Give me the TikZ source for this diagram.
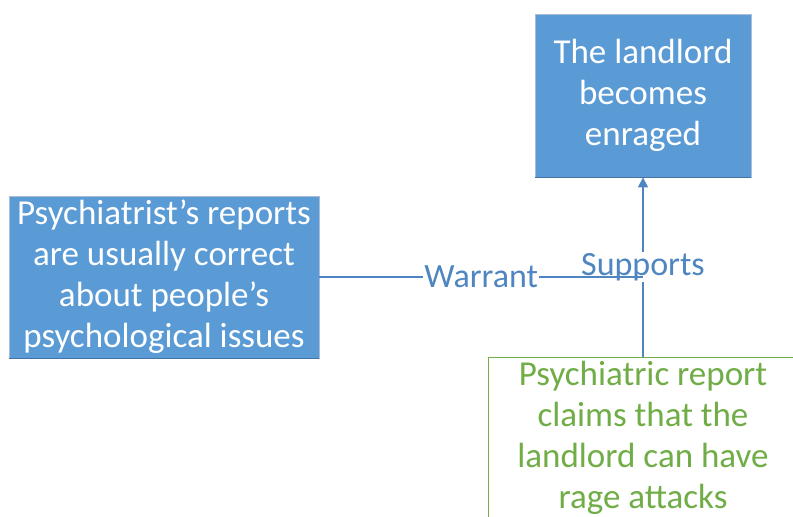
\documentclass[tikz,border=0pt]{standalone}
\usepackage{fontspec}
\setmainfont{Carlito}
\usetikzlibrary{arrows.meta}
\definecolor{boxblue}{HTML}{5B9BD5}
\definecolor{boxedge}{HTML}{A9BED6}
\definecolor{linkblue}{HTML}{4F86C2}
\definecolor{leafgreen}{HTML}{70AD47}
\begin{document}
\begin{tikzpicture}[x=1pt,y=-1pt,
  bluebox/.style={draw=boxedge, line width=0.8pt, fill=boxblue, text=white,
    inner sep=0pt, align=center, font=\fontsize{35}{41}\selectfont},
  greenbox/.style={draw=leafgreen, line width=0.8pt, fill=white, text=leafgreen,
    inner sep=0pt, align=center, font=\fontsize{35}{41}\selectfont},
  link/.style={draw=linkblue, line width=1.3pt},
  linklabel/.style={fill=white, text=linkblue, inner sep=1pt, font=\fontsize{34}{40}\selectfont}]
\useasboundingbox (0,0) rectangle (793,517);
\begin{scope}
\clip (0,0) rectangle (793,517);
% claim
\node[bluebox, minimum width=216pt, minimum height=163pt] (claim) at (643,95.5)
  {The landlord\\becomes\\enraged};
\draw[linkblue!85!black, line width=1.5pt] (claim.south west) -- (claim.south east);
% warrant
\node[bluebox, minimum width=310pt, minimum height=162pt] (warrant) at (164,277)
  {Psychiatrist’s reports\\are usually correct\\about people’s\\psychological issues};
\draw[linkblue!85!black, line width=1.5pt] (warrant.south west) -- (warrant.south east);
% ground
\node[greenbox, minimum width=310pt, minimum height=162pt] (ground) at (643,438)
  {Psychiatric report\\claims that the\\landlord can have\\rage attacks};
% support link
\coordinate (joint) at (643,277);
\draw[link, -{Triangle[length=10pt,width=10pt]}] (ground.north) -- (claim.south)
  node[linklabel, pos=0.5] (suplab) at (643,266) {Supports};
\draw[link] (warrant.east) -- (joint)
  node[linklabel, pos=0.5] (warlab) at (481,275) {Warrant};
\draw[link] (warlab.east) -- (joint);
\end{scope}
\end{tikzpicture}
\end{document}
